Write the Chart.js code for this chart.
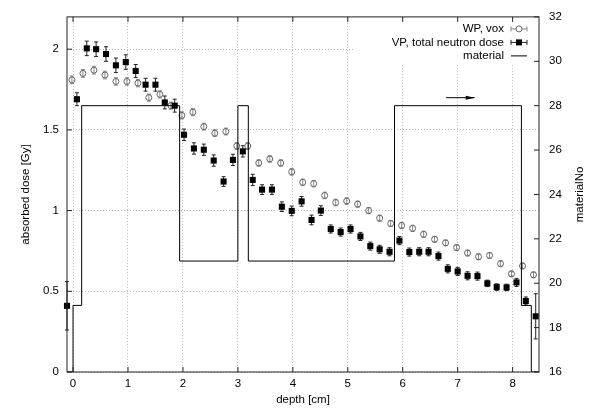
<!DOCTYPE html>
<html>
<head>
<meta charset="utf-8">
<title>absorbed dose vs depth</title>
<script src="https://cdn.jsdelivr.net/npm/chart.js@4/dist/chart.umd.min.js"></script>
<style>
  html, body { margin: 0; padding: 0; background: #fff; }
  #chart { display: block; }
</style>
</head>
<body>
<canvas id="chart" width="600" height="419"></canvas>
<script>
// WP, vox (open circles)
const wpDepth = [-0.02, 0.18, 0.38, 0.58, 0.78, 0.98, 1.18, 1.38, 1.58, 1.78, 1.98, 2.18, 2.38, 2.58, 2.78,
    2.98, 3.18, 3.38, 3.58, 3.78, 3.98, 4.18, 4.38, 4.58, 4.78, 4.98, 5.18, 5.38, 5.58, 5.78, 5.98,
    6.18, 6.38, 6.58, 6.78, 6.98, 7.18, 7.38, 7.58, 7.78, 7.98, 8.18, 8.38];
const wpDose = [1.81, 1.85, 1.87, 1.84, 1.80, 1.80, 1.79, 1.70, 1.72, 1.65, 1.59, 1.61, 1.52, 1.48, 1.49,
    1.40, 1.40, 1.295, 1.32, 1.295, 1.24, 1.175, 1.167, 1.094, 1.05, 1.059, 1.04, 1.0, 0.953, 0.92, 0.908,
    0.89, 0.853, 0.822, 0.80, 0.771, 0.737, 0.714, 0.722, 0.671, 0.608, 0.657, 0.602];
const wpErr = [0.024, 0.024, 0.024, 0.024, 0.023, 0.023, 0.023, 0.022, 0.022, 0.022, 0.022, 0.022, 0.021, 0.021, 0.021,
    0.021, 0.021, 0.02, 0.02, 0.02, 0.02, 0.02, 0.02, 0.02, 0.02, 0.02, 0.019, 0.019, 0.019, 0.019, 0.019,
    0.019, 0.019, 0.018, 0.018, 0.018, 0.018, 0.018, 0.018, 0.018, 0.018, 0.018, 0.018];

// VP, total neutron dose (filled squares)
const vpDepth = [-0.11, 0.07, 0.25, 0.42, 0.6, 0.78, 0.96, 1.14, 1.32, 1.5, 1.67, 1.85, 2.02, 2.2, 2.38,
    2.56, 2.74, 2.91, 3.09, 3.27, 3.44, 3.62, 3.8, 3.98, 4.16, 4.34, 4.51, 4.69, 4.87, 5.05, 5.23,
    5.41, 5.58, 5.76, 5.94, 6.12, 6.3, 6.47, 6.65, 6.82, 7.0, 7.18, 7.36, 7.54, 7.71, 7.89, 8.07, 8.24, 8.42];
const vpDose = [0.41, 1.69, 2.005, 2.0, 1.97, 1.90, 1.92, 1.865, 1.78, 1.78, 1.67, 1.65, 1.47, 1.385, 1.377,
    1.31, 1.18, 1.314, 1.367, 1.19, 1.13, 1.13, 1.024, 0.998, 1.057, 0.942, 1.0, 0.886, 0.867, 0.886, 0.84,
    0.78, 0.76, 0.745, 0.814, 0.743, 0.745, 0.745, 0.718, 0.639, 0.623, 0.596, 0.594, 0.549, 0.526, 0.524, 0.555, 0.44, 0.345];
const vpErr = [0.15, 0.04, 0.045, 0.045, 0.045, 0.045, 0.045, 0.04, 0.04, 0.04, 0.04, 0.04, 0.035, 0.035, 0.035,
    0.035, 0.03, 0.035, 0.035, 0.035, 0.03, 0.03, 0.03, 0.03, 0.03, 0.03, 0.03, 0.025, 0.025, 0.025, 0.025,
    0.025, 0.025, 0.025, 0.025, 0.025, 0.025, 0.025, 0.025, 0.025, 0.025, 0.025, 0.025, 0.02, 0.02, 0.02, 0.025, 0.025, 0.14];

// material number (right axis), value holds from each depth to the next
const matDepth = [-0.11, 0, 0.157, 1.94, 3.0, 3.19, 5.85, 8.16, 8.34, 8.48];
const matNo = [16, 19, 28, 21, 28, 21, 28, 19, 16, 16];

// ticks
const xTicks = [0, 1, 2, 3, 4, 5, 6, 7, 8];
const yTicks = [0, 0.5, 1, 1.5, 2];
const y2Ticks = [16, 18, 20, 22, 24, 26, 28, 30, 32];

// arrow pointing to the right axis (depth, materialNo)
const arrowFrom = [6.79, 28.36];
const arrowTo = [7.31, 28.36];

const FONT = "'Liberation Sans', Arial, Helvetica, sans-serif";
const FS = 11.5;
Chart.defaults.font.family = FONT;
Chart.defaults.font.size = FS;
Chart.defaults.color = "#000";

const pts = (xs, ys) => xs.map((x, i) => ({ x: x, y: ys[i] }));

function errorBars(ctx, sx, sy, xs, ys, es, color) {
    ctx.strokeStyle = color;
    ctx.lineWidth = 1;
    ctx.beginPath();
    xs.forEach((d, i) => {
        const px = sx.getPixelForValue(d);
        const lo = sy.getPixelForValue(ys[i] - es[i]);
        const hi = sy.getPixelForValue(ys[i] + es[i]);
        ctx.moveTo(px, lo); ctx.lineTo(px, hi);
        ctx.moveTo(px - 2, lo); ctx.lineTo(px + 2, lo);
        ctx.moveTo(px - 2, hi); ctx.lineTo(px + 2, hi);
    });
    ctx.stroke();
}

const gnuplotLook = {
    id: "gnuplotLook",
    beforeDatasetsDraw(chart) {
        const { ctx, chartArea: a, scales } = chart;
        ctx.save();
        // key area is blank
        ctx.fillStyle = "#fff";
        ctx.fillRect(a.right - 186, a.top + 0.5, 185.5, 47);
        errorBars(ctx, scales.x, scales.y, wpDepth, wpDose, wpErr, "#888");
        errorBars(ctx, scales.x, scales.y, vpDepth, vpDose, vpErr, "#222");
        ctx.restore();
    },
    afterDraw(chart) {
        const { ctx, chartArea: a, scales } = chart;
        const sx = scales.x, sy = scales.y, sy2 = scales.y2;
        ctx.save();
        ctx.strokeStyle = "#222";
        ctx.lineWidth = 1;
        ctx.beginPath();
        xTicks.forEach(v => {
            const p = sx.getPixelForValue(v);
            ctx.moveTo(p, a.bottom); ctx.lineTo(p, a.bottom - 5);
            ctx.moveTo(p, a.top); ctx.lineTo(p, a.top + 5);
        });
        yTicks.forEach(v => {
            const p = sy.getPixelForValue(v);
            ctx.moveTo(a.left, p); ctx.lineTo(a.left + 5, p);
        });
        y2Ticks.forEach(v => {
            const p = sy2.getPixelForValue(v);
            ctx.moveTo(a.right, p); ctx.lineTo(a.right - 5, p);
        });
        ctx.stroke();
        ctx.strokeRect(a.left, a.top, a.right - a.left, a.bottom - a.top);

        // key
        const tx = a.right - 35, s0 = a.right - 28, s1 = a.right - 12, sm = (s0 + s1) / 2;
        const rows = [a.top + 12, a.top + 25.5, a.top + 39];
        ctx.font = FS + "px " + FONT;
        ctx.fillStyle = "#000";
        ctx.textAlign = "right";
        ctx.textBaseline = "middle";
        ctx.fillText("WP, vox", tx, rows[0]);
        ctx.fillText("VP, total neutron dose", tx, rows[1]);
        ctx.fillText("material", tx, rows[2]);
        [["#888", rows[0]], ["#222", rows[1]]].forEach(([c, y]) => {
            ctx.strokeStyle = c;
            ctx.beginPath();
            ctx.moveTo(s0, y); ctx.lineTo(s1, y);
            ctx.moveTo(s0, y - 2.5); ctx.lineTo(s0, y + 2.5);
            ctx.moveTo(s1, y - 2.5); ctx.lineTo(s1, y + 2.5);
            ctx.stroke();
        });
        ctx.fillStyle = "#fff";
        ctx.strokeStyle = "#666";
        ctx.beginPath();
        ctx.arc(sm, rows[0], 3, 0, Math.PI * 2);
        ctx.fill(); ctx.stroke();
        ctx.fillStyle = "#000";
        ctx.fillRect(sm - 3, rows[1] - 3, 6, 6);
        ctx.strokeStyle = "#000";
        ctx.beginPath();
        ctx.moveTo(s0, rows[2]); ctx.lineTo(s1, rows[2]);
        ctx.stroke();

        // arrow
        const ax0 = sx.getPixelForValue(arrowFrom[0]), ax1 = sx.getPixelForValue(arrowTo[0]);
        const ay = sy2.getPixelForValue(arrowFrom[1]);
        ctx.beginPath();
        ctx.moveTo(ax0, ay); ctx.lineTo(ax1, ay);
        ctx.stroke();
        ctx.beginPath();
        ctx.moveTo(ax1, ay); ctx.lineTo(ax1 - 9, ay - 2); ctx.lineTo(ax1 - 9, ay + 2);
        ctx.closePath();
        ctx.fill();

        // right axis title, reads bottom to top
        ctx.translate(580, (a.top + a.bottom) / 2);
        ctx.rotate(-Math.PI / 2);
        ctx.textAlign = "center";
        ctx.fillText("materialNo", 0, 0);
        ctx.restore();
    }
};

new Chart(document.getElementById("chart"), {
    type: "scatter",
    data: {
        datasets: [
            {
                label: "material",
                data: pts(matDepth, matNo),
                yAxisID: "y2",
                showLine: true,
                stepped: "before",
                borderColor: "#000",
                borderWidth: 1,
                pointRadius: 0,
                fill: false
            },
            {
                label: "VP, total neutron dose",
                data: pts(vpDepth, vpDose),
                yAxisID: "y",
                pointStyle: "rect",
                pointRadius: 4.3,
                backgroundColor: "#000",
                borderColor: "#000",
                borderWidth: 0,
                clip: false
            },
            {
                label: "WP, vox",
                data: pts(wpDepth, wpDose),
                yAxisID: "y",
                pointStyle: "circle",
                pointRadius: 3,
                backgroundColor: "rgba(0,0,0,0)",
                borderColor: "#666",
                borderWidth: 1
            }
        ]
    },
    options: {
        responsive: false,
        animation: false,
        devicePixelRatio: 1,
        layout: { padding: { top: 13, left: 0, right: 0, bottom: 0 } },
        plugins: { legend: { display: false }, tooltip: { enabled: false } },
        scales: {
            x: {
                type: "linear",
                position: "bottom",
                min: -0.11,
                max: 8.48,
                afterBuildTicks: s => { s.ticks = xTicks.map(v => ({ value: v })); },
                afterFit: s => { s.height = 47; },
                grid: { color: "#bbb", drawTicks: false },
                border: { display: false, dash: [1, 2] },
                ticks: { padding: 5, callback: v => String(v) },
                title: { display: true, text: "depth [cm]", padding: { top: 0, bottom: 12 } }
            },
            y: {
                type: "linear",
                position: "left",
                min: 0,
                max: 2.2,
                afterBuildTicks: s => { s.ticks = yTicks.map(v => ({ value: v })); },
                afterFit: s => { s.width = 67; },
                grid: { color: "#bbb", drawTicks: false },
                border: { display: false, dash: [1, 2] },
                ticks: { padding: 8, callback: v => String(v) },
                title: { display: true, text: "absorbed dose [Gy]", padding: { top: 19, bottom: 0 } }
            },
            y2: {
                type: "linear",
                position: "right",
                min: 16,
                max: 32,
                afterBuildTicks: s => { s.ticks = y2Ticks.map(v => ({ value: v })); },
                afterFit: s => { s.width = 61; },
                grid: { display: false, drawOnChartArea: false, drawTicks: false },
                border: { display: false },
                ticks: { padding: 10, callback: v => String(v) }
            }
        }
    },
    plugins: [gnuplotLook]
});
</script>
</body>
</html>
